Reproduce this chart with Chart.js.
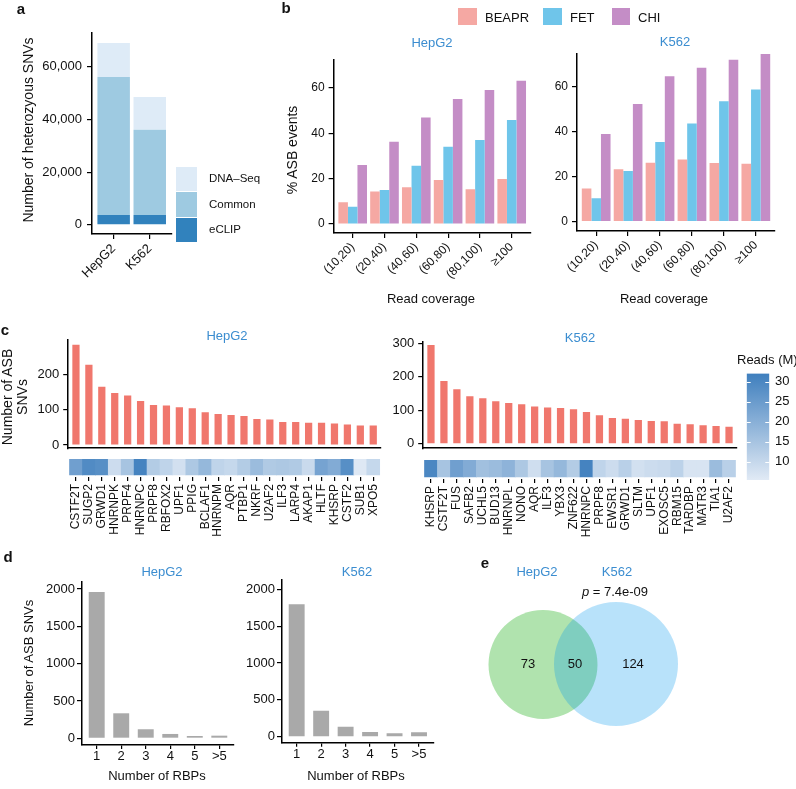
<!DOCTYPE html>
<html><head><meta charset="utf-8">
<script src="https://cdn.jsdelivr.net/npm/chart.js@4.4.1/dist/chart.umd.min.js"></script>
<style>
html,body{margin:0;padding:0;background:#fff;}
#fig{position:relative;width:796px;height:789px;overflow:hidden;font-family:'Liberation Sans',Arial,Helvetica,sans-serif;color:#111;}
canvas{position:absolute;}
.t{position:absolute;white-space:nowrap;line-height:1;}
.box{position:absolute;}
</style></head><body><div id="fig"></div>
<script>
// ---------------- DATA ----------------
// Panel a
const aCells = ['HepG2', 'K562'];
const aEclip = [3800, 3800];
const aCommon = [52400, 32300];
const aDnaSeq = [12900, 12500];
const aTicks = [0, 20000, 40000, 60000];
// Panel b
const bCoverage = ['(10,20)', '(20,40)', '(40,60)', '(60,80)', '(80,100)', '\u2265100'];
const bHepG2Beapr = [9.6, 14.3, 16.2, 19.4, 15.3, 19.9];
const bHepG2Fet = [7.6, 15.0, 25.7, 34.1, 37.0, 45.9];
const bHepG2Chi = [26.0, 36.3, 47.0, 55.1, 59.1, 63.2];
const bK562Beapr = [14.8, 23.3, 26.2, 27.7, 26.1, 25.8];
const bK562Fet = [10.4, 22.5, 35.4, 43.6, 53.5, 58.8];
const bK562Chi = [39.0, 52.3, 64.6, 68.4, 72.0, 74.5];
const bTicks = [0, 20, 40, 60];
// Panel c
const cHepG2Rbps = ['CSTF2T','SUGP2','GRWD1','HNRNPK','PRPF4','HNRNPC','PRPF8','RBFOX2','UPF1','PPIG','BCLAF1','HNRNPM','AQR','PTBP1','NKRF','U2AF2','ILF3','LARP4','AKAP1','HLTF','KHSRP','CSTF2','SUB1','XPO5'];
const cHepG2Asb = [284, 227, 165, 147, 140, 125, 113, 112, 107, 104, 93, 88, 85, 82, 74, 72, 65, 65, 63, 63, 61, 58, 55, 55];
const cHepG2Reads = [24, 29, 28, 9, 15, 31, 13, 11, 8, 14, 18, 11, 10, 13, 17, 13.5, 14, 13.5, 9.5, 23, 21, 28, 6, 10];
const cK562Rbps = ['KHSRP','CSTF2T','FUS','SAFB2','UCHL5','BUD13','HNRNPL','NONO','AQR','ILF3','YBX3','ZNF622','HNRNPC','PRPF8','EWSR1','GRWD1','SLTM','UPF1','EXOSC5','RBM15','TARDBP','MATR3','TIA1','U2AF2'];
const cK562Asb = [295, 187, 163, 142, 136, 127, 122, 118, 111, 108, 107, 103, 95, 85, 77, 75, 71, 68, 67, 60, 58, 55, 53, 51];
const cK562Reads = [30, 15, 24, 21, 16, 17, 19, 14, 8.5, 15, 18, 13, 31, 11, 9, 12, 8, 9, 9.5, 11.5, 7, 7, 17, 12];
const cHepG2Ticks = [0, 100, 200];
const cK562Ticks = [0, 100, 200, 300];
const readsTicks = [10, 15, 20, 25, 30];
const readsRange = [5.5, 32];
// Panel d
const dRbpCounts = ['1', '2', '3', '4', '5', '>5'];
const dHepG2 = [1960, 335, 121, 58, 31, 35];
const dK562 = [1797, 353, 136, 64, 46, 60];
const dTicks = [0, 500, 1000, 1500, 2000];
// Panel e
const eSets = ['HepG2', 'K562'];
const eCounts = [73, 50, 124]; // HepG2 only, shared, K562 only
const ePValue = '7.4e-09';

// ---------------- STYLE ----------------
const FONT = "'Liberation Sans', Arial, Helvetica, sans-serif";
Chart.defaults.font.family = FONT;
Chart.defaults.color = '#111';
Chart.defaults.animation = false;
Chart.defaults.responsive = false;
Chart.defaults.devicePixelRatio = 1;
Chart.defaults.plugins.legend.display = false;
Chart.defaults.plugins.tooltip.enabled = false;
Chart.defaults.events = [];

const BLUE_T = '#3B8DD0';
const COL = {
  dna: '#DEEBF7', common: '#9ECAE1', eclip: '#3182BD',
  beapr: '#F5A8A3', fet: '#6FC5EA', chi: '#C48DC6',
  asb: '#F0776D', grey: '#A9A9A9',
  lo: [225, 234, 245], hi: [63, 127, 190],
  vennG: '#B0E3AE', vennB: 'rgba(0,151,237,0.28)'
};
function readsColor(v) {
  const t = Math.max(0, Math.min(1, (v - readsRange[0]) / (readsRange[1] - readsRange[0])));
  const c = COL.lo.map((l, i) => Math.round(l + (COL.hi[i] - l) * t));
  return `rgb(${c[0]},${c[1]},${c[2]})`;
}

const fig = document.getElementById('fig');
function text(str, x, y, o = {}) {
  const d = document.createElement('div');
  d.className = 't';
  d.innerHTML = str;
  d.style.fontSize = (o.size || 13) + 'px';
  if (o.bold) d.style.fontWeight = 'bold';
  if (o.color) d.style.color = o.color;
  if (o.lh) { d.style.lineHeight = o.lh + 'px'; d.style.textAlign = 'center'; }
  d.style.left = x + 'px'; d.style.top = y + 'px';
  const ax = o.anchor === 'left' ? '0' : '-50%';
  d.style.transform = `translate(${ax},-50%)` + (o.rot ? ` rotate(${o.rot}deg)` : '');
  fig.appendChild(d);
}
function rect(x0, y0, x1, y1, color) {
  const d = document.createElement('div');
  d.className = 'box';
  d.style.left = x0 + 'px'; d.style.top = y0 + 'px';
  d.style.width = (x1 - x0) + 'px'; d.style.height = (y1 - y0) + 'px';
  d.style.background = color;
  fig.appendChild(d);
}

// box: [left, top, width, height]; area: [l, t, r, b] (page coords)
function makeChart(box, area, config, flags = {}) {
  const cv = document.createElement('canvas');
  cv.width = box[2]; cv.height = box[3];
  cv.style.left = box[0] + 'px'; cv.style.top = box[1] + 'px';
  fig.appendChild(cv);
  const padL = area[0] - box[0], padT = area[1] - box[1];
  const padR = box[0] + box[2] - area[2], padB = box[1] + box[3] - area[3];
  const pad = { top: padT, left: 0, right: 0, bottom: 0 };
  const sc = config.options.scales;
  if (flags.yLeft) sc.y.afterFit = s => { s.width = padL; }; else pad.left = padL;
  if (flags.yRight) sc.y.afterFit = s => { s.width = padR; }; else pad.right = padR;
  if (flags.xBottom) sc.x.afterFit = s => { s.height = padB; }; else pad.bottom = padB;
  config.options.layout = { padding: pad, autoPadding: false };
  config.options.maintainAspectRatio = false;
  return new Chart(cv, config);
}

function yLin(min, max, ticks, o = {}) {
  return {
    type: 'linear', min, max, position: o.position || 'left', display: o.display !== false,
    stacked: !!o.stacked,
    afterBuildTicks: s => { s.ticks = ticks.map(v => ({ value: v })); },
    border: { display: o.border !== false, color: '#000', width: 1.5 },
    grid: { drawOnChartArea: false, drawTicks: o.drawTicks !== false, tickLength: o.tickLength ?? 5, color: '#000', lineWidth: 1.2 },
    ticks: { font: { size: o.fontSize || 13 }, color: '#111', padding: o.padding ?? 4, callback: o.fmt || (v => String(v)) }
  };
}
function xCat(cats, o = {}) {
  return {
    type: 'linear', min: 0.4, max: cats.length + 0.6, stacked: !!o.stacked, offset: false,
    afterBuildTicks: s => { s.ticks = cats.map((c, i) => ({ value: i + 1 })); },
    border: { display: o.border !== false, color: '#000', width: 1.5 },
    grid: { offset: false, drawOnChartArea: false, drawTicks: o.drawTicks !== false, tickLength: o.tickLength ?? 5, color: '#000', lineWidth: 1.2 },
    ticks: { display: o.labels !== false, autoSkip: false, minRotation: o.rot || 0, maxRotation: o.rot || 0,
      font: { size: o.fontSize || 13 }, color: '#111', padding: o.padding ?? 2,
      callback: v => cats[Math.round(v) - 1] }
  };
}
const pts = arr => arr.map((v, i) => ({ x: i + 1, y: v }));

// ---------------- PANEL A ----------------
makeChart([0, 0, 210, 320], [92, 33, 171.4, 234], {
  type: 'bar',
  data: { datasets: [
    { label: 'eCLIP', data: pts(aEclip), backgroundColor: COL.eclip, stack: 's' },
    { label: 'Common', data: pts(aCommon), backgroundColor: COL.common, stack: 's' },
    { label: 'DNA-Seq', data: pts(aDnaSeq), backgroundColor: COL.dna, stack: 's' }
  ] },
  options: {
    datasets: { bar: { categoryPercentage: 0.9, barPercentage: 1, borderWidth: 0 } },
    scales: {
      x: xCat(aCells, { rot: 45, stacked: true, fontSize: 13, padding: 2 }),
      y: yLin(-3450, 72870, aTicks, { stacked: true, fmt: v => v.toLocaleString('en-US'), padding: 5 })
    }
  }
}, { yLeft: true, xBottom: true });

// ---------------- PANEL B ----------------
function bChart(box, area, ymin, ymax, beapr, fet, chi) {
  return makeChart(box, area, {
    type: 'bar',
    data: { datasets: [
      { label: 'BEAPR', data: pts(beapr), backgroundColor: COL.beapr },
      { label: 'FET', data: pts(fet), backgroundColor: COL.fet },
      { label: 'CHI', data: pts(chi), backgroundColor: COL.chi }
    ] },
    options: {
      datasets: { bar: { categoryPercentage: 0.9, barPercentage: 1, borderWidth: 0 } },
      scales: {
        x: xCat(bCoverage, { rot: 45, fontSize: 12, padding: 2 }),
        y: yLin(ymin, ymax, bTicks, { fontSize: 12, padding: 4 })
      }
    }
  }, { yLeft: true, xBottom: true });
}
bChart([262, 40, 290, 300], [333.6, 60, 530.8, 233], -3.97, 72.34, bHepG2Beapr, bHepG2Fet, bHepG2Chi);
bChart([510, 40, 286, 300], [577, 53.4, 775, 231], -4.13, 74.8, bK562Beapr, bK562Fet, bK562Chi);

// ---------------- PANEL C ----------------
function cBars(box, area, ymin, ymax, ticks, rbps, asb) {
  return makeChart(box, area, {
    type: 'bar',
    data: { datasets: [{ data: pts(asb), backgroundColor: COL.asb }] },
    options: {
      datasets: { bar: { categoryPercentage: 1, barPercentage: 0.56, borderWidth: 0 } },
      scales: {
        x: xCat(rbps, { labels: false, drawTicks: false }),
        y: yLin(ymin, ymax, ticks, { fontSize: 13, padding: 4 })
      }
    }
  }, { yLeft: true, xBottom: true });
}
function cHeat(box, area, ymin, rbps, reads) {
  return makeChart(box, area, {
    type: 'bar',
    data: { datasets: [{ data: pts(reads.map(() => 1)), backgroundColor: reads.map(readsColor) }] },
    options: {
      datasets: { bar: { categoryPercentage: 1, barPercentage: 1, borderWidth: 0 } },
      scales: {
        x: xCat(rbps, { rot: 90, border: false, fontSize: 12, tickLength: 4, padding: 3 }),
        y: { type: 'linear', min: ymin, max: 1, display: false }
      }
    }
  }, { xBottom: true });
}
cBars([0, 320, 400, 140], [68.2, 340, 381, 453.3], -8.9, 297.3, cHepG2Ticks, cHepG2Rbps, cHepG2Asb);
cHeat([0, 440, 400, 110], [68.2, 459, 381, 477], -0.125, cHepG2Rbps, cHepG2Reads);
cBars([350, 320, 420, 140], [423.2, 341.7, 736.8, 455.7], -13.1, 304.5, cK562Ticks, cK562Rbps, cK562Asb);
cHeat([350, 440, 420, 110], [423.2, 460, 736.8, 479], -0.118, cK562Rbps, cK562Reads);

// colour bar
makeChart([700, 360, 96, 140], [746.7, 373.3, 769.3, 480], {
  type: 'bar',
  data: { labels: ['Reads (M)'], datasets: [{
    data: [readsRange],
    backgroundColor: (ctx) => {
      const ch = ctx.chart; const y = ch.scales.y;
      if (!ch.chartArea || !y) return readsColor(20);
      const g = ch.ctx.createLinearGradient(0, y.getPixelForValue(readsRange[0]), 0, y.getPixelForValue(readsRange[1]));
      g.addColorStop(0, readsColor(readsRange[0]));
      g.addColorStop(1, readsColor(readsRange[1]));
      return g;
    }
  }] },
  options: {
    datasets: { bar: { categoryPercentage: 1, barPercentage: 1, borderWidth: 0 } },
    scales: {
      x: { type: 'category', display: false },
      y: yLin(readsRange[0], readsRange[1], readsTicks, { position: 'right', border: false, drawTicks: false, padding: 5.7, fontSize: 13 })
    }
  },
  plugins: [{ id: 'cbTicks', afterDatasetsDraw(ch) {
    const c = ch.ctx, a = ch.chartArea, y = ch.scales.y;
    c.save(); c.strokeStyle = '#fff'; c.lineWidth = 1;
    readsTicks.forEach(v => {
      const py = Math.round(y.getPixelForValue(v)) + 0.5;
      c.beginPath(); c.moveTo(a.left, py); c.lineTo(a.left + 4, py);
      c.moveTo(a.right - 4, py); c.lineTo(a.right, py); c.stroke();
    });
    c.restore();
  } }]
}, { yRight: true });

// ---------------- PANEL D ----------------
function dChart(box, area, ymin, ymax, vals) {
  return makeChart(box, area, {
    type: 'bar',
    data: { datasets: [{ data: pts(vals), backgroundColor: COL.grey }] },
    options: {
      datasets: { bar: { categoryPercentage: 1, barPercentage: 0.65, borderWidth: 0 } },
      scales: {
        x: xCat(dRbpCounts, { fontSize: 13, padding: 0, tickLength: 4 }),
        y: yLin(ymin, ymax, dTicks, { fontSize: 13, padding: 2 })
      }
    }
  }, { yLeft: true, xBottom: true });
}
dChart([0, 560, 250, 229], [82, 582, 234, 745], -90, 2095, dHepG2);
dChart([200, 560, 250, 229], [282, 580, 433.7, 742.7], -81, 2126, dK562);

// ---------------- PANEL E (Venn) ----------------
const vennCircles = [ { x: 73, y: 74.5, r: 54.5 }, { x: 146, y: 74, r: 62 } ];
const vennLabelPos = [[58, 74], [105, 74], [163, 74]];
makeChart([470, 590, 230, 150], [470, 590, 700, 740], {
  type: 'bubble',
  data: { datasets: [{ data: vennCircles, backgroundColor: [COL.vennG, COL.vennB], borderWidth: 0, clip: false }] },
  options: {
    scales: {
      x: { type: 'linear', min: 0, max: 230, display: false },
      y: { type: 'linear', min: 0, max: 150, reverse: true, display: false }
    }
  },
  plugins: [{ id: 'vennLabels', afterDatasetsDraw(ch) {
    const c = ch.ctx; c.save();
    c.font = `13px ${FONT}`; c.fillStyle = '#111'; c.textAlign = 'center'; c.textBaseline = 'middle';
    eCounts.forEach((n, i) => c.fillText(String(n), ch.scales.x.getPixelForValue(vennLabelPos[i][0]), ch.scales.y.getPixelForValue(vennLabelPos[i][1])));
    c.restore();
  } }]
}, {});

// ---------------- TEXT ----------------
// panel letters
text('a', 21, 8, { size: 15, bold: true });
text('b', 286, 7, { size: 15, bold: true });
text('c', 5, 329, { size: 15, bold: true });
text('d', 8, 556, { size: 15, bold: true });
text('e', 485, 562, { size: 15, bold: true });
// panel a
text('Number of heterozyous SNVs', 28, 130, { size: 14, rot: -90 });
rect(176, 167, 197, 191, COL.dna);
rect(176, 192, 197, 217, COL.common);
rect(176, 218, 197, 242, COL.eclip);
text('DNA\u2013Seq', 209, 179, { size: 11.5, anchor: 'left' });
text('Common', 209, 204.5, { size: 11.5, anchor: 'left' });
text('eCLIP', 209, 230, { size: 11.5, anchor: 'left' });
// panel b
rect(458, 8, 477, 25, COL.beapr); text('BEAPR', 485, 16.5, { anchor: 'left' });
rect(543, 8, 562, 25, COL.fet); text('FET', 570, 16.5, { anchor: 'left' });
rect(612, 8, 630, 25, COL.chi); text('CHI', 638, 16.5, { anchor: 'left' });
text('HepG2', 432, 42, { color: BLUE_T });
text('K562', 675, 41, { color: BLUE_T });
text('% ASB events', 292, 150, { size: 14, rot: -90 });
text('Read coverage', 431, 298);
text('Read coverage', 664, 298);
// panel c
text('HepG2', 227, 335, { color: BLUE_T });
text('K562', 580, 337, { color: BLUE_T });
text('Number of ASB<br>SNVs', 15, 397, { size: 14, rot: -90, lh: 15 });
text('Reads (M)', 737, 359, { anchor: 'left' });
// panel d
text('HepG2', 162, 571, { color: BLUE_T });
text('K562', 357, 571, { color: BLUE_T });
text('Number of ASB SNVs', 28, 663, { rot: -90 });
text('Number of RBPs', 157, 775);
text('Number of RBPs', 356, 775);
// panel e
text(eSets[0], 537, 571, { color: BLUE_T });
text(eSets[1], 617, 571, { color: BLUE_T });
text('<i>p</i> = ' + ePValue, 615, 591);
</script></body></html>
